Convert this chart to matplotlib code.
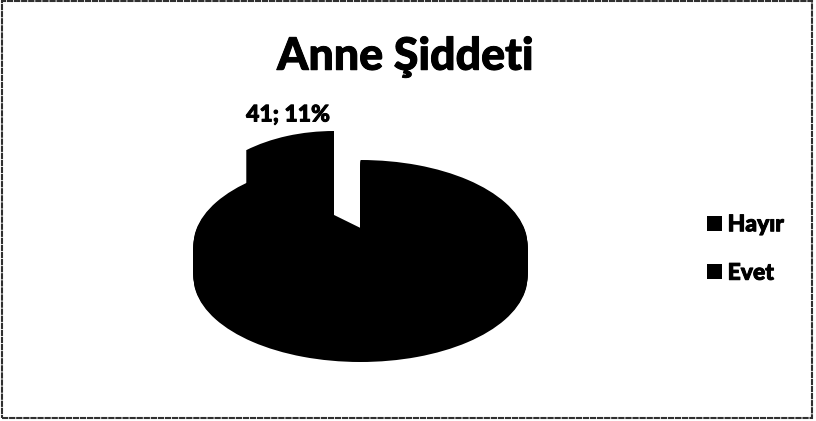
#!/usr/bin/env python3

import matplotlib
matplotlib.use('Agg')
import matplotlib.pyplot as plt
import matplotlib.patheffects as pe
from matplotlib.patches import Rectangle
from matplotlib.transforms import Affine2D

categories = ['Hayır', 'Evet']
counts = [331, 41]
percents = [89, 11]
title_text = 'Anne Şiddeti'

W, H = 816, 421
plt.rcParams['font.family'] = ['Lato', 'DejaVu Sans']

fig = plt.figure(figsize=(W / 100, H / 100), dpi=100)
ax = fig.add_axes([0, 0, 1, 1])


def draw_layers(index, a, b, cx, cy, depth):
    # fake 3d: stack the same pie slice downwards, pixel coords from the top
    wedges = None
    for step in range(depth + 1):
        colors = ['none', 'none']
        colors[index] = 'black'
        wedges, _ = ax.pie(counts, startangle=90, counterclock=False, colors=colors)
        for w in wedges:
            w.set_transform(Affine2D().scale(a, b).translate(cx, H - cy - step) + ax.transData)
    return wedges


# main slice, a small one to lift its tip, then the pulled out one
main = draw_layers(0, 167, 85, 360.5, 245, 32)
tip = draw_layers(0, 120, 49, 360.5, 228, 0)
pulled = draw_layers(1, 138, 84, 334, 215, 36)

ax.set_aspect('auto')
ax.set_xlim(0, W)
ax.set_ylim(0, H)
ax.axis('off')

ax.add_patch(Rectangle((2, H - 418), 810, 417, fill=False, edgecolor='#303030', linewidth=1.5,
                       linestyle=(0, (3, 0.4)), clip_on=False))

# scan looks fatter than the font, thicken a little
fat = [pe.withStroke(linewidth=0.7, foreground='black')]
ax.text(405.5, H - 57, title_text, ha='center', va='center', fontsize=32.2, fontweight=900, color='black', path_effects=fat)
ax.text(288, H - 115, f'{counts[1]}; {percents[1]}%', ha='center', va='center', fontsize=16.5, fontweight=900, color='black', path_effects=fat)

handles = [Rectangle((0, 0), 1, 1, facecolor='black') for c in categories]
leg = ax.legend(handles, categories, loc='center left', bbox_to_anchor=(707 / W, 1 - 249 / H), frameon=False,
                prop={'size': 16.5, 'weight': 900}, handlelength=0.65, handleheight=0.65, handletextpad=0.25,
                labelspacing=1.2, borderpad=0, borderaxespad=0)
for t in leg.get_texts():
    t.set_path_effects(fat)

fig.savefig('out.png', dpi=100)
